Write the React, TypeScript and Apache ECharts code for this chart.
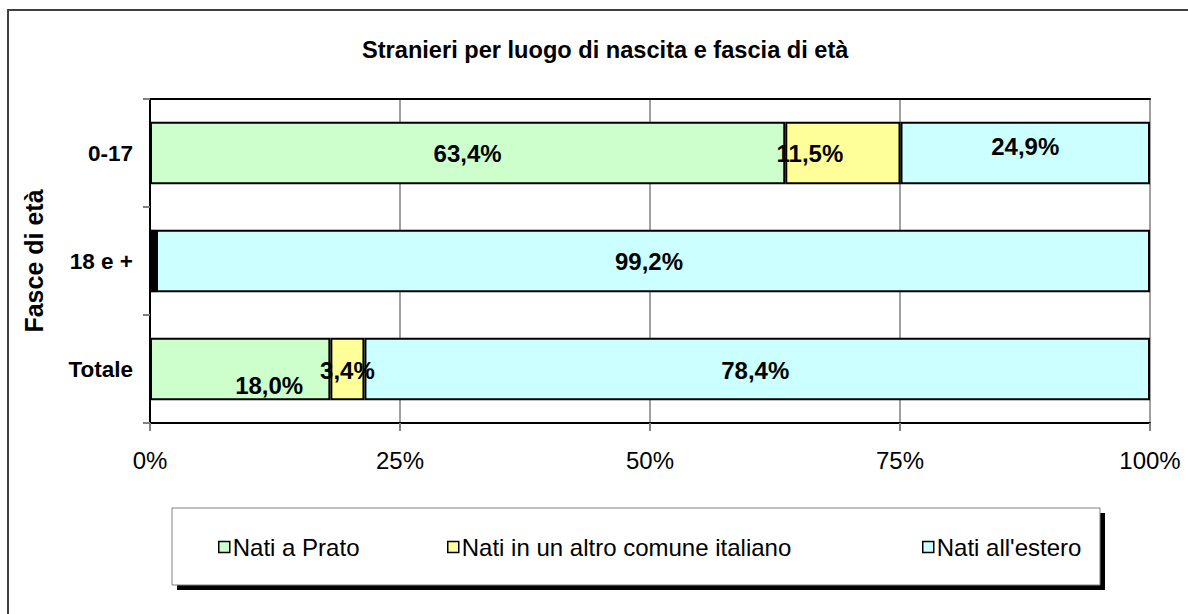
import React, { useEffect, useRef } from "react";
import * as echarts from "echarts";

const categories = ["0-17", "18 e +", "Totale"];
const seriesNames = ["Nati a Prato", "Nati in un altro comune italiano", "Nati all'estero"];
const natiPrato = [63.4, 0.3, 18.0];
const natiAltroComune = [11.5, 0.3, 3.4];
const natiEstero = [24.9, 99.2, 78.4];
const valueTicks = [0, 25, 50, 75, 100];

const colors = ["#CCFFCC", "#FFFF99", "#CCFFFF"];
// label nudges mimicking the reference placement [dx, dy], null = hidden
const labelOffsets: ([number, number] | null)[][] = [
  [[0, 0], null, [29, 16]],
  [[-33, 0], null, [0, 1]],
  [[0, -7], [-4, 0], [-2, 1]],
];
const legendLefts = [218, 447, 922];

const FONT = "'Liberation Sans', Arial, sans-serif";

export default function App() {
  const ref = useRef<HTMLDivElement>(null);
  useEffect(() => {
    if (!ref.current) return;
    const chart = echarts.init(ref.current, null, { renderer: "svg" });
    const seriesData = [natiPrato, natiAltroComune, natiEstero];
    const totals = categories.map((_, ci) => seriesData.reduce((s, arr) => s + arr[ci], 0));
    const fmt = (v: number) => v.toFixed(1).replace(".", ",") + "%";
    const series = seriesNames.map((name, si) => ({
      name,
      type: "bar",
      stack: "tot",
      barWidth: "58%",
      itemStyle: { color: colors[si], borderColor: "#000", borderWidth: 2 },
      data: seriesData[si].map((v, ci) => {
        const off = labelOffsets[si][ci];
        return {
          // 100% stacked: each share normalised by its row total
          value: (v / totals[ci]) * 100,
          label: off
            ? {
                show: true,
                position: "inside",
                offset: off,
                formatter: () => fmt(v),
                color: "#000",
                fontWeight: "bold",
                fontSize: 24,
                fontFamily: FONT,
              }
            : { show: false },
        };
      }),
    }));
    const option: any = {
      animation: false,
      backgroundColor: "#fff",
      title: {
        text: "Stranieri per luogo di nascita e fascia di età",
        left: 357,
        top: 33,
        textStyle: { fontSize: 23.6, fontWeight: "bold", color: "#000", fontFamily: FONT },
      },
      grid: { left: 150, right: 38, top: 99, bottom: 191, containLabel: false },
      xAxis: [
        {
          type: "value",
          min: valueTicks[0],
          max: valueTicks[valueTicks.length - 1],
          interval: 25,
          position: "bottom",
          axisLine: { show: true, lineStyle: { color: "#000", width: 2 } },
          axisTick: { show: true, length: 8, lineStyle: { color: "#808080", width: 2 } },
          axisLabel: {
            formatter: "{value}%",
            fontSize: 24,
            color: "#000",
            fontFamily: FONT,
            margin: 25,
          },
          splitLine: { show: true, lineStyle: { color: "#808080", width: 1.5 } },
        },
        {
          type: "value",
          min: 0,
          max: 100,
          interval: 25,
          position: "top",
          axisLine: { show: true, lineStyle: { color: "#000", width: 2 } },
          axisTick: { show: false },
          axisLabel: { show: false },
          splitLine: { show: false },
        },
      ],
      yAxis: {
        type: "category",
        data: categories,
        inverse: true,
        name: "Fasce di età",
        nameLocation: "middle",
        nameGap: 104,
        nameTextStyle: { fontSize: 25, fontWeight: "bold", color: "#000", fontFamily: FONT, padding: [0, 0, 0, 0] },
        axisLine: { show: true, lineStyle: { color: "#000", width: 2 } },
        axisTick: { show: true, length: 7, lineStyle: { color: "#808080", width: 2 } },
        axisLabel: { fontSize: 22.5, fontWeight: "bold", color: "#000", fontFamily: FONT, margin: 17 },
      },
      legend: seriesNames.map((n, i) => ({
        data: [n],
        left: legendLefts[i],
        top: 535,
        padding: 0,
        icon: "rect",
        itemWidth: 11,
        itemHeight: 11,
        itemGap: 5,
        z: 20,
        selectedMode: false,
        itemStyle: { borderColor: "#000", borderWidth: 1.5 },
        textStyle: { fontSize: 24, lineHeight: 24, color: "#000", fontFamily: FONT, padding: [0, 0, 0, -2] },
      })),
      graphic: [
        {
          type: "rect",
          z: 0,
          shape: { x: 8, y: 10, width: 1200, height: 700 },
          style: { fill: "none", stroke: "#404040", lineWidth: 2 },
          silent: true,
        },
        {
          type: "rect",
          z: 1,
          shape: { x: 177, y: 513, width: 928, height: 77 },
          style: { fill: "#000" },
          silent: true,
        },
        {
          type: "rect",
          z: 2,
          shape: { x: 172, y: 508, width: 928, height: 77 },
          style: { fill: "#fff", stroke: "#808080", lineWidth: 1 },
          silent: true,
        },
      ],
      series,
    };
    chart.setOption(option);
    return () => chart.dispose();
  }, []);
  return <div ref={ref} style={{ width: 1188, height: 614, position: "absolute", left: 0, top: 0 }} />;
}
